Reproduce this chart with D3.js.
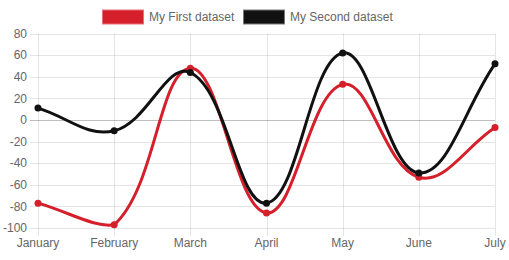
<!DOCTYPE html>
<html>
<head>
<meta charset="utf-8">
<script src="https://cdn.jsdelivr.net/npm/d3@7"></script>
<style>
  body { margin: 0; background: #fff; }
  text { font-family: "Liberation Sans", Arial, sans-serif; font-size: 12px; fill: #666; }
</style>
</head>
<body>
<script>
const months = ["January", "February", "March", "April", "May", "June", "July"];
const firstData = [-77, -97, 48, -86, 33, -53, -7];
const secondData = [11, -10, 44, -77, 62, -49, 52];
const yTicks = [80, 60, 40, 20, 0, -20, -40, -60, -80, -100];

const datasets = [
  { label: "My First dataset", values: firstData, color: "#d51f2b", legendStroke: "#e8707a" },
  { label: "My Second dataset", values: secondData, color: "#111111", legendStroke: "#7a7a7a" }
];

const width = 509, height = 260;
const areaLeft = 38, areaRight = 495, areaTop = 33.6, areaBottom = 228;

const svg = d3.select("body").append("svg")
  .attr("width", width)
  .attr("height", height);

const x = d3.scalePoint().domain(months).range([areaLeft, areaRight]);
const y = d3.scaleLinear().domain([-100, 80]).range([areaBottom, areaTop]);

// grid
svg.selectAll("hgrid")
  .data(yTicks)
  .enter().append("line")
  .attr("x1", areaLeft - 8).attr("x2", areaRight)
  .attr("y1", d => Math.round(y(d)) + 0.5).attr("y2", d => Math.round(y(d)) + 0.5)
  .attr("stroke", d => d === 0 ? "rgba(0,0,0,0.25)" : "rgba(0,0,0,0.1)");

svg.selectAll("vgrid")
  .data(months)
  .enter().append("line")
  .attr("x1", d => Math.round(x(d)) + 0.5).attr("x2", d => Math.round(x(d)) + 0.5)
  .attr("y1", areaTop).attr("y2", areaBottom + 8)
  .attr("stroke", "rgba(0,0,0,0.1)");

// axis labels
svg.selectAll("ylab")
  .data(yTicks)
  .enter().append("text")
  .attr("x", areaLeft - 11)
  .attr("y", d => y(d))
  .attr("dy", "0.35em")
  .attr("text-anchor", "end")
  .text(d => d);

svg.selectAll("xlab")
  .data(months)
  .enter().append("text")
  .attr("x", d => x(d))
  .attr("y", areaBottom + 15)
  .attr("dy", "0.35em")
  .attr("text-anchor", "middle")
  .text(d => d);

// Chart.js style spline, tension 0.4, capped to chart area
function splinePath(pts, t) {
  const cap = (v, lo, hi) => Math.max(lo, Math.min(hi, v));
  const cps = pts.map((p, i) => {
    const prev = pts[Math.max(0, i - 1)], next = pts[Math.min(pts.length - 1, i + 1)];
    const d01 = Math.hypot(p[0] - prev[0], p[1] - prev[1]);
    const d12 = Math.hypot(next[0] - p[0], next[1] - p[1]);
    let s01 = d01 / (d01 + d12), s12 = d12 / (d01 + d12);
    if (isNaN(s01)) s01 = 0;
    if (isNaN(s12)) s12 = 0;
    const fa = t * s01, fb = t * s12;
    return {
      prev: [cap(p[0] - fa * (next[0] - prev[0]), areaLeft, areaRight), cap(p[1] - fa * (next[1] - prev[1]), areaTop, areaBottom)],
      next: [cap(p[0] + fb * (next[0] - prev[0]), areaLeft, areaRight), cap(p[1] + fb * (next[1] - prev[1]), areaTop, areaBottom)]
    };
  });
  const path = d3.path();
  path.moveTo(pts[0][0], pts[0][1]);
  for (let i = 1; i < pts.length; i++) {
    const a = cps[i - 1].next, b = cps[i].prev;
    path.bezierCurveTo(a[0], a[1], b[0], b[1], pts[i][0], pts[i][1]);
  }
  return path.toString();
}

datasets.forEach(ds => {
  const pts = ds.values.map((v, i) => [x(months[i]), y(v)]);
  svg.append("path")
    .attr("d", splinePath(pts, 0.4))
    .attr("fill", "none")
    .attr("stroke", ds.color)
    .attr("stroke-width", 3);
});

datasets.forEach(ds => {
  svg.selectAll(null)
    .data(ds.values)
    .enter().append("circle")
    .attr("cx", (d, i) => x(months[i]))
    .attr("cy", d => y(d))
    .attr("r", 3.5)
    .attr("fill", ds.color);
});

// legend
const legendX = [102, 243];
const legend = svg.selectAll("legend")
  .data(datasets)
  .enter().append("g")
  .attr("transform", (d, i) => "translate(" + legendX[i] + ",10)");

legend.append("rect")
  .attr("x", 0.5).attr("y", 0)
  .attr("width", 41).attr("height", 14)
  .attr("fill", d => d.color)
  .attr("stroke", d => d.legendStroke);

legend.append("text")
  .attr("x", 47)
  .attr("y", 7)
  .attr("dy", "0.35em")
  .text(d => d.label);
</script>
</body>
</html>
